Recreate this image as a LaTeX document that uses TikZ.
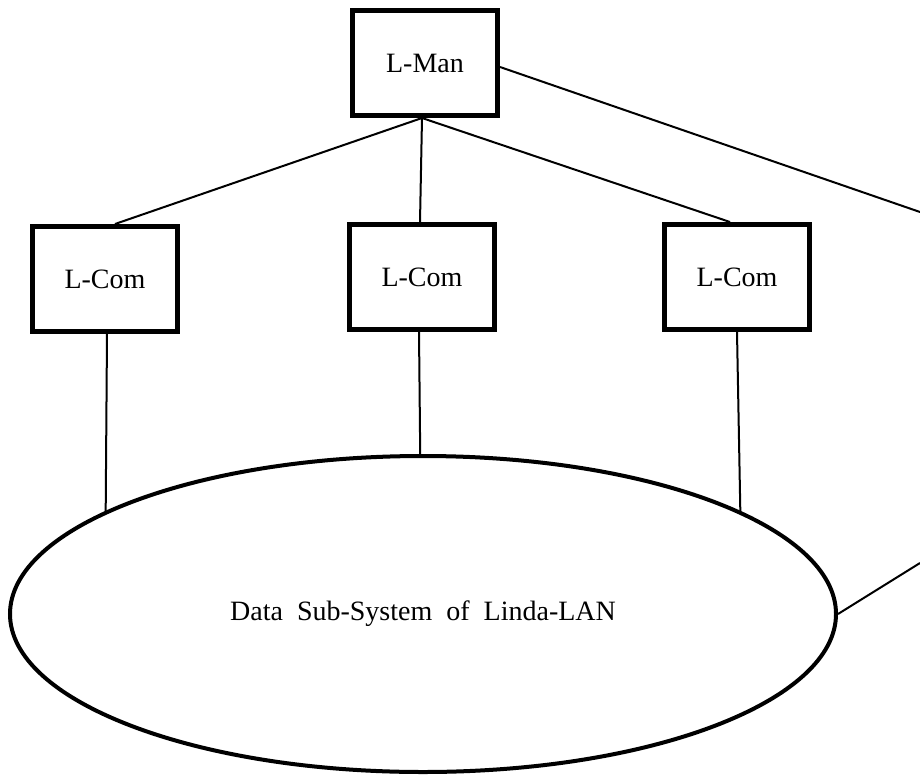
\documentclass[tikz,border=0pt]{standalone}
\usepackage{fontspec}
\setmainfont{Liberation Serif}
\usetikzlibrary{shapes.geometric}
\begin{document}
\begin{tikzpicture}[x=1pt,y=-1pt,
  box/.style={draw,line width=5pt,minimum width=145pt,minimum height=105pt,inner sep=0pt,font=\fontsize{28}{30}\selectfont},
  conn/.style={line width=2pt},
  db/.style={ellipse,draw,line width=4pt,minimum width=826pt,minimum height=316pt,inner sep=0pt,font=\fontsize{28}{30}\selectfont}]
\useasboundingbox (0,0) rectangle (920,776);
\node[box] (lman) at (425,63) {L-Man};
\node[box] (lcom1) at (105,279) {L-Com};
\node[box] (lcom2) at (422,277) {L-Com};
\node[box] (lcom3) at (737,277) {L-Com};
\node[db] (data) at (423,614) {Data\hspace{0.5em}Sub-System\hspace{0.5em}of\hspace{0.5em}Linda-LAN};
\coordinate (r1) at (920,212);
\coordinate (r2) at (920,563);
\draw[conn] ([xshift=-3pt]lman.south) -- ([xshift=10pt]lcom1.north);
\draw[conn] ([xshift=-3pt]lman.south) -- ([xshift=-2pt]lcom2.north);
\draw[conn] ([xshift=-3pt]lman.south) -- ([xshift=-7pt]lcom3.north);
\draw[conn] ([xshift=2pt]lcom1.south) -- (data.162.1);
\draw[conn] ([xshift=-3pt]lcom2.south) -- (data.91.4);
\draw[conn] (lcom3.south) -- (data.18.0);
\draw[conn] ([yshift=-4pt]lman.east) -- (r1);
\draw[conn] (data.0.7) -- (r2);
\end{tikzpicture}
\end{document}
